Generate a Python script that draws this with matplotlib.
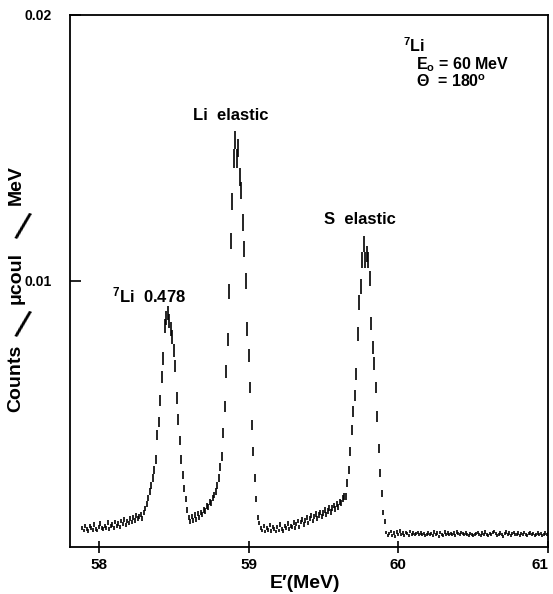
import matplotlib
matplotlib.use("Agg")
import matplotlib.pyplot as plt
import numpy as np

plt.rcParams['font.family'] = ['Liberation Sans', 'DejaVu Sans']
plt.rcParams['font.weight'] = 'bold'
plt.rcParams['mathtext.fontset'] = 'custom'
plt.rcParams['mathtext.rm'] = 'Liberation Sans:bold'
plt.rcParams['mathtext.it'] = 'Liberation Sans:bold'
plt.rcParams['mathtext.bf'] = 'Liberation Sans:bold'

# spectrum, channel width 0.01 MeV, values in units of 1e-3 counts/ucoul/MeV
dE = 0.01

bg_low_start = 57.89
bg_low = [0.72, 0.62, 0.78, 0.68, 0.60, 0.80, 0.70, 0.64, 0.84, 0.68,
          0.62, 0.76, 0.88, 0.70, 0.66, 0.80, 0.72, 0.92, 0.68, 0.78,
          0.84, 0.72, 0.94, 0.80, 0.88, 0.76, 0.98, 0.86, 1.04, 0.82,
          0.98, 0.90, 1.08, 0.94, 1.12, 1.00, 1.18, 1.06, 1.14, 1.22,
          1.08, 1.30, 1.45, 1.60, 1.85]

li478_start = 58.34
li478 = [2.1, 2.3, 2.6, 2.9, 3.3, 4.2, 4.7, 5.5, 6.4, 7.1,
         8.3, 8.6, 8.8, 8.5, 8.2, 7.9, 7.4, 6.8, 5.6, 4.8,
         4.0, 3.3, 2.7, 2.2, 1.8]

bg_mid_start = 58.59
bg_mid = [1.40, 1.10, 0.95, 1.15, 1.00, 1.20, 1.05, 1.25, 1.12, 1.30,
          1.22, 1.40, 1.35, 1.55, 1.50, 1.70, 1.65, 1.85, 1.95, 2.10]

li_el_start = 58.79
li_el = [2.3, 2.6, 3.0, 3.4, 4.3, 5.3, 6.6, 7.8, 9.6, 11.5,
         13.0, 14.6, 15.3, 14.6, 15.0, 13.9, 13.4, 12.2, 11.2, 10.0,
         8.2, 7.2, 6.0, 4.6, 3.6, 2.6, 1.8, 1.1]

bg_s_start = 59.07
bg_s = [0.90, 0.72, 0.62, 0.78, 0.58, 0.70, 0.64, 0.82, 0.60, 0.74,
        0.66, 0.58, 0.76, 0.62, 0.84, 0.68, 0.60, 0.78, 0.70, 0.88,
        0.66, 0.80, 0.74, 0.92, 0.70, 0.86, 0.98, 0.76, 0.94, 1.04,
        0.84, 1.00, 1.12, 0.90, 1.08, 1.18, 0.98, 1.14, 1.24, 1.06,
        1.20, 1.30, 1.14, 1.28, 1.38, 1.22, 1.36, 1.48, 1.32, 1.46,
        1.56, 1.42, 1.60, 1.52, 1.70, 1.64, 1.82, 1.90]

s_el_start = 59.65
s_el = [1.9, 2.4, 2.9, 3.6, 4.4, 5.1, 5.7, 6.5, 8.0, 9.2,
        9.8, 10.8, 11.4, 10.8, 11.0, 10.8, 10.1, 8.4, 7.5, 6.9,
        6.0, 4.9, 3.7, 2.8, 2.0, 1.3, 0.95]

bg_high_start = 59.92
bg_high = [0.55, 0.42, 0.50, 0.58, 0.44, 0.52, 0.40, 0.56, 0.48, 0.60,
           0.46, 0.52, 0.42, 0.54, 0.50, 0.44, 0.58, 0.48, 0.52, 0.46,
           0.50, 0.54, 0.48, 0.52, 0.46, 0.50, 0.44, 0.48, 0.52, 0.46,
           0.50, 0.42, 0.56, 0.46, 0.52, 0.40, 0.54, 0.48, 0.44, 0.56,
           0.48, 0.52, 0.46, 0.50, 0.48, 0.52, 0.44, 0.56, 0.50, 0.46,
           0.54, 0.50, 0.48, 0.52, 0.46, 0.44, 0.50, 0.48, 0.42, 0.46,
           0.50, 0.54, 0.48, 0.44, 0.52, 0.46, 0.56, 0.48, 0.42, 0.50,
           0.46, 0.54, 0.58, 0.50, 0.44, 0.48, 0.52, 0.46, 0.40, 0.50,
           0.56, 0.48, 0.52, 0.44, 0.50, 0.54, 0.46, 0.48, 0.52, 0.44,
           0.50, 0.46, 0.54, 0.48, 0.42, 0.50, 0.52, 0.46, 0.50, 0.44,
           0.48, 0.52, 0.46, 0.50, 0.44, 0.48, 0.52, 0.46, 0.50]

segments = [(bg_low_start, bg_low), (li478_start, li478), (bg_mid_start, bg_mid),
            (li_el_start, li_el), (bg_s_start, bg_s), (s_el_start, s_el),
            (bg_high_start, bg_high)]

energy = np.concatenate([start + dE * np.arange(len(vals)) for start, vals in segments])
counts_k = np.concatenate([np.array(vals) for start, vals in segments])
counts = counts_k * 1e-3
# counting statistics
err = 0.09 * np.sqrt(counts_k) * 1e-3

fig = plt.figure(figsize=(5.53, 5.94), dpi=100)
ax = fig.add_axes([70 / 553, 1 - 547 / 594, (548 - 70) / 553, (547 - 15) / 594])

ax.errorbar(energy, counts, yerr=err, fmt='none', ecolor='black', elinewidth=1.2)

ax.set_xlim(57.807, 61.0)
ax.set_ylim(0, 0.02)
ax.set_xticks([58, 59, 60, 61])
ax.set_xticklabels(['58', '59', '60', '61'])
ax.get_xticklabels()[-1].set_horizontalalignment('right')
ax.set_yticks([0.01, 0.02])
ax.set_yticklabels(['0.01', '0.02'])
ax.tick_params(axis='x', direction='inout', length=8, width=1.2, labelsize=11, pad=4)
ax.tick_params(axis='y', direction='in', length=8, width=1.2, labelsize=10, pad=13)
for s in ax.spines.values():
    s.set_linewidth(1.3)

fig.text(305 / 553, 1 - 583 / 594, "E′(MeV)", fontsize=14, ha='center', va='center')

# y label in pieces, with the tall slashes of the original
ylab_words = [("Counts", 378), ("μcoul", 278), ("MeV", 185)]
for txt, ypix in ylab_words:
    fig.text(16 / 553, 1 - ypix / 594, txt, fontsize=14, rotation=90,
             ha='center', va='center')
for ypix in [328, 230]:
    fig.text(22 / 553, 1 - ypix / 594, "/", fontsize=28, fontweight='normal',
             rotation=-15, ha='center', va='center')

ax.text(58.087, 0.0092, r"$^{7}$Li  0.478", fontsize=12)
ax.text(58.627, 0.01605, "Li  elastic", fontsize=12)
ax.text(59.507, 0.01214, "S  elastic", fontsize=12)
ax.text(60.03, 0.01862, r"$^{7}$Li", fontsize=11.5)
ax.text(60.12, 0.01795, r"E$_{o}$ = 60 MeV", fontsize=11.5)
ax.text(60.12, 0.01728, r"Θ  = 180$^{o}$", fontsize=11.5)

fig.savefig("out.png", dpi=100)
